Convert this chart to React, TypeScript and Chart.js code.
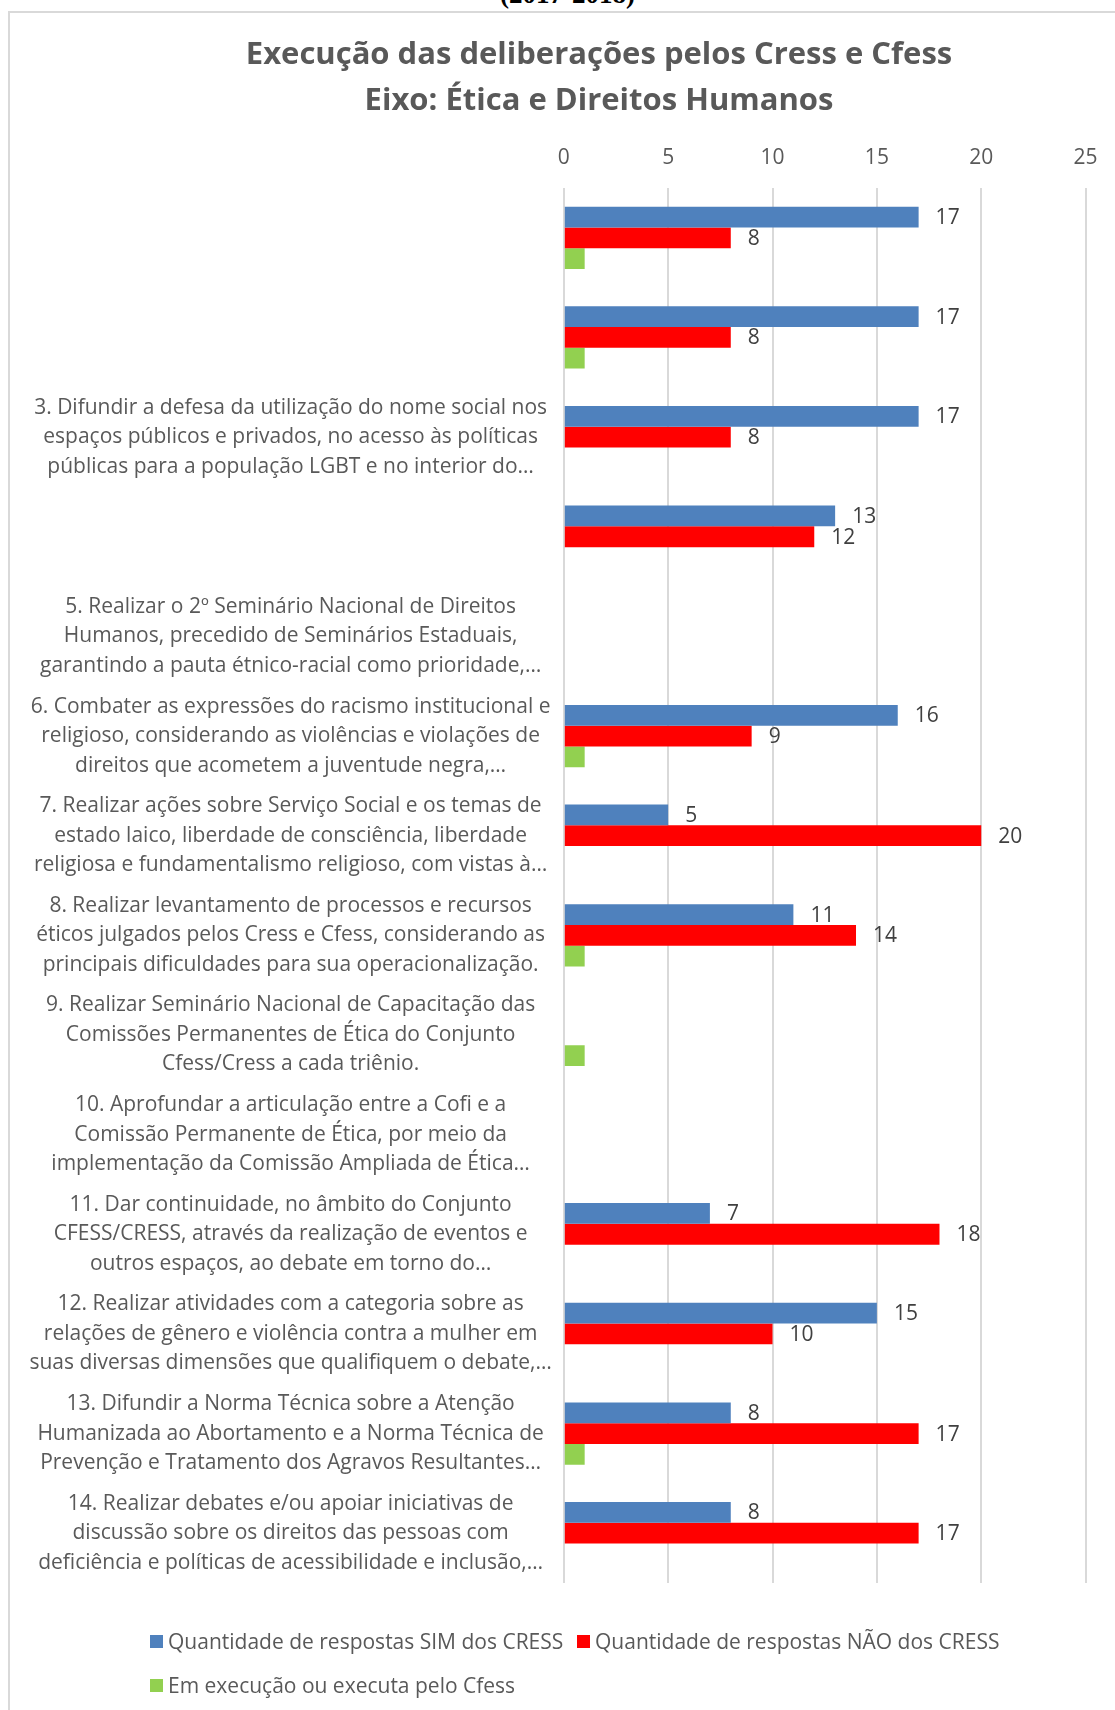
import React, { useEffect, useRef } from 'react';
import { Chart, registerables } from 'chart.js';

Chart.register(...registerables);

const FONT = "'Open Sans', 'Noto Sans', sans-serif";

const titleLines = ['Execução das deliberações pelos Cress e Cfess', 'Eixo: Ética e Direitos Humanos'];
const headerText = '(2017-2018)';

const categories: (string | string[])[] = [
  '',
  '',
  ['3. Difundir a defesa da utilização do nome social nos', 'espaços públicos e privados, no acesso às políticas', 'públicas para a população LGBT e no interior do…'],
  '',
  ['5. Realizar o 2º Seminário Nacional de Direitos', 'Humanos, precedido de Seminários Estaduais,', 'garantindo a pauta étnico-racial como prioridade,…'],
  ['6. Combater as expressões do racismo institucional e', 'religioso, considerando as violências e violações de', 'direitos que acometem a juventude negra,…'],
  ['7. Realizar ações sobre Serviço Social e os temas de', 'estado laico, liberdade de consciência, liberdade', 'religiosa e fundamentalismo religioso, com vistas à…'],
  ['8. Realizar levantamento de processos e recursos', 'éticos julgados pelos Cress e Cfess, considerando as', 'principais dificuldades para sua operacionalização.'],
  ['9. Realizar Seminário Nacional de Capacitação das', 'Comissões Permanentes de Ética do Conjunto', 'Cfess/Cress a cada triênio.'],
  ['10. Aprofundar a articulação entre a Cofi e a', 'Comissão Permanente de Ética, por meio da', 'implementação da Comissão Ampliada de Ética…'],
  ['11. Dar continuidade, no âmbito do Conjunto', 'CFESS/CRESS, através da realização de eventos e', 'outros espaços, ao debate em torno do…'],
  ['12. Realizar atividades com a categoria sobre as', 'relações de gênero e violência contra a mulher em', 'suas diversas dimensões que qualifiquem o debate,…'],
  ['13. Difundir a Norma Técnica sobre a Atenção', 'Humanizada ao Abortamento e a Norma Técnica de', 'Prevenção e Tratamento dos Agravos Resultantes…'],
  ['14. Realizar debates e/ou apoiar iniciativas de', 'discussão sobre os direitos das pessoas com', 'deficiência e políticas de acessibilidade e inclusão,…'],
];

const seriesNames = [
  'Quantidade de respostas SIM dos CRESS',
  'Quantidade de respostas NÃO dos CRESS',
  'Em execução ou executa pelo Cfess',
];
const seriesColors = ['#4f81bd', '#ff0000', '#92d050'];

const simValues = [17, 17, 17, 13, null, 16, 5, 11, null, null, 7, 15, 8, 8];
const naoValues = [8, 8, 8, 12, null, 9, 20, 14, null, null, 18, 10, 17, 17];
const cfessValues = [1, 1, null, null, null, 1, null, 1, 1, null, null, null, 1, null];

const xMin = 0;
const xMax = 25;
const xStep = 5;

const labeledSeries = [0, 1];

const dataLabelPlugin = {
  id: 'dataLabels',
  afterDatasetsDraw(chart: any) {
    const ctx = chart.ctx;
    ctx.save();
    ctx.font = `21px ${FONT}`;
    ctx.fillStyle = '#404040';
    ctx.textAlign = 'left';
    ctx.textBaseline = 'middle';
    labeledSeries.forEach((di) => {
      const meta = chart.getDatasetMeta(di);
      const ds = chart.data.datasets[di];
      meta.data.forEach((el: any, i: number) => {
        const v = ds.data[i];
        if (v === null || v === undefined) return;
        ctx.fillText(String(v), el.x + 17, el.y + 1);
      });
    });
    ctx.restore();
  },
};

// let the category labels extend left of the axis box (no clipping)
const unclipPlugin = {
  id: 'unclipY',
  afterLayout(chart: any) {
    const y = chart.scales.y;
    if (y) y.left = 0;
  },
};

export default function App() {
  const canvasRef = useRef<HTMLCanvasElement | null>(null);

  useEffect(() => {
    if (!canvasRef.current) return;
    const chart = new Chart(canvasRef.current, {
      type: 'bar',
      data: {
        labels: categories,
        datasets: [
          { label: seriesNames[0], data: simValues, backgroundColor: seriesColors[0] },
          { label: seriesNames[1], data: naoValues, backgroundColor: seriesColors[1] },
          { label: seriesNames[2], data: cfessValues, backgroundColor: seriesColors[2] },
        ],
      },
      options: {
        indexAxis: 'y',
        animation: false,
        responsive: true,
        maintainAspectRatio: false,
        datasets: { bar: { categoryPercentage: 0.625, barPercentage: 1.0 } },
        layout: { padding: { left: 111.6, right: 28.6, top: 0, bottom: 127 } },
        scales: {
          x: {
            position: 'top',
            min: xMin,
            max: xMax,
            ticks: { stepSize: xStep, padding: 17.4, color: '#595959', font: { family: FONT, size: 21 } },
            grid: { color: '#d9d9d9', lineWidth: 2, drawTicks: false },
            border: { display: false },
          },
          y: {
            ticks: {
              crossAlign: 'center',
              padding: 12,
              autoSkip: false,
              color: '#595959',
              font: { family: FONT, size: 21, lineHeight: 1.405 },
            },
            grid: { display: false, drawTicks: false },
            border: { display: false },
            afterFit: (s: any) => {
              s.width = 452.2;
            },
          },
        },
        plugins: {
          legend: { display: false },
          tooltip: { enabled: false },
          title: {
            display: true,
            text: titleLines,
            color: '#595959',
            font: { family: FONT, size: 31, weight: 'bold', lineHeight: 46 / 31 },
            padding: { top: 32, bottom: 4 },
          },
        },
      } as any,
      plugins: [dataLabelPlugin, unclipPlugin],
    });
    return () => chart.destroy();
  }, []);

  const legendRow = (items: number[], left: number[], centerY: number) =>
    items.map((si, k) => (
      <div
        key={si}
        style={{
          position: 'absolute',
          left: left[k],
          top: centerY - 15,
          height: 30,
          display: 'flex',
          alignItems: 'center',
          whiteSpace: 'nowrap',
        }}
      >
        <span style={{ display: 'inline-block', width: 13, height: 13, background: seriesColors[si], marginRight: 5 }} />
        <span style={{ fontFamily: FONT, fontSize: 21, color: '#595959', lineHeight: '30px' }}>{seriesNames[si]}</span>
      </div>
    ));

  return (
    <div style={{ position: 'absolute', left: 0, top: 0, width: 1115, height: 1710, overflow: 'hidden', background: '#fff' }}>
      <div
        style={{
          position: 'absolute',
          left: 0,
          width: 1135,
          top: -19,
          textAlign: 'center',
          fontFamily: "'Liberation Serif', 'Times New Roman', serif",
          fontWeight: 'bold',
          fontSize: 27,
          lineHeight: '27px',
          color: '#000',
        }}
      >
        {headerText}
      </div>
      <div
        style={{
          position: 'absolute',
          left: 8,
          top: 11,
          width: 1200,
          height: 1800,
          borderLeft: '2px solid #d9d9d9',
          borderTop: '2px solid #d9d9d9',
        }}
      />
      <div style={{ position: 'absolute', left: 0, top: 0, width: 1115, height: 1710 }}>
        <canvas ref={canvasRef} />
      </div>
      {legendRow([0, 1], [150, 577], 1641)}
      {legendRow([2], [150], 1685)}
    </div>
  );
}
